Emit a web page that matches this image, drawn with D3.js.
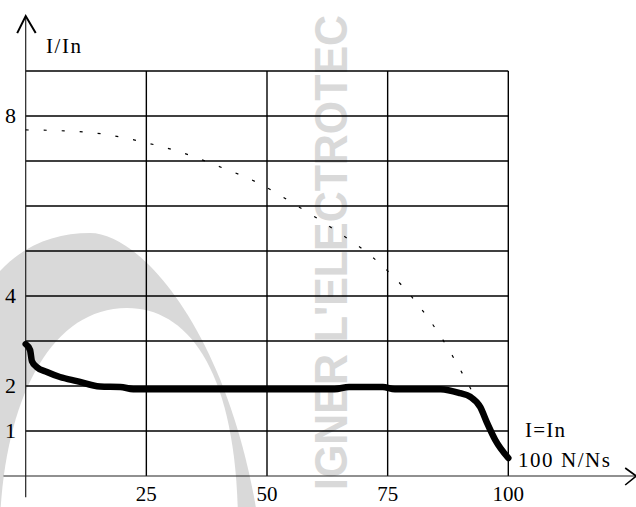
<!DOCTYPE html>
<html lang="fr">
  <head>
    <meta charset="utf-8" />
    <title>I/In - N/Ns</title>
    <script src="https://cdn.jsdelivr.net/npm/d3@7"></script>
    <style>
      body { margin: 0; background: #fff; }
      svg { display: block; }
    </style>
  </head>
  <body>
    <svg id="chart" width="636" height="507"></svg>
    <script>
      // values (speed in % of Ns, current in I/In)
      const solidSpeed = [0, 0.9, 1.3, 2.3, 4.4, 7.1, 10.6, 15.4, 19.6, 22.3, 40, 64, 67, 74, 76.5, 86, 90, 92.1, 94.2, 95.6, 97.3, 100];
      const solidCurrent = [2.93, 2.8, 2.55, 2.42, 2.31, 2.2, 2.11, 1.99, 1.98, 1.93, 1.93, 1.93, 1.98, 1.98, 1.93, 1.93, 1.84, 1.76, 1.53, 1.18, 0.8, 0.4];

      const dottedSpeed = [0, 8, 16, 24, 32, 40, 48, 56, 64, 72, 80, 86, 92.7];
      const dottedCurrent = [7.69, 7.67, 7.6, 7.43, 7.2, 6.88, 6.52, 6.02, 5.47, 4.85, 3.98, 3.1, 1.84];

      const xTicks = [25, 50, 75, 100];
      const yTicks = [1, 2, 4, 8];
      const yGrid = [1, 2, 3, 4, 5, 6, 7, 8, 9];
      const xGrid = [25, 50, 75, 100];

      const svg = d3.select("#chart")
        .attr("font-family", "'Liberation Serif', 'DejaVu Serif', serif");

      const xScale = d3.scaleLinear().domain([0, 100]).range([25.7, 508.3]);
      const yScale = d3.scaleLinear().domain([0, 9]).range([476, 71]);

      // watermark (light grey arch + vertical text)
      const wm = svg.append("g").attr("class", "watermark");
      wm.append("path")
        .attr("d", "M -60 520 L -60 430 C -40 280, 20 233, 90 233 C 140 233, 228 330, 258 520 Z")
        .attr("fill", "#d9d9d9");
      wm.append("path")
        .attr("d", "M 0 520 C 5 400, 50 308, 127 308 C 188 308, 236 370, 238 520 Z")
        .attr("fill", "#fff");
      wm.append("text")
        .attr("transform", "translate(347, 490) rotate(-90)")
        .attr("font-family", "'Liberation Sans', Arial, sans-serif")
        .attr("font-weight", "700")
        .attr("font-size", "46px")
        .attr("fill", "#d9d9d9")
        .attr("textLength", 475)
        .attr("lengthAdjust", "spacingAndGlyphs")
        .text("IGNER L'ELECTROTEC");

      // grid
      const grid = svg.append("g").attr("class", "grid");
      grid.selectAll(".h-line")
        .data(yGrid)
        .enter()
        .append("line")
        .attr("class", "h-line")
        .attr("x1", xScale(0))
        .attr("x2", xScale(100))
        .attr("y1", (d) => yScale(d))
        .attr("y2", (d) => yScale(d))
        .attr("stroke", "#000")
        .attr("stroke-width", 1.4);
      grid.selectAll(".v-line")
        .data(xGrid)
        .enter()
        .append("line")
        .attr("class", "v-line")
        .attr("x1", (d) => xScale(d))
        .attr("x2", (d) => xScale(d))
        .attr("y1", yScale(0))
        .attr("y2", yScale(9))
        .attr("stroke", "#000")
        .attr("stroke-width", 1.4);

      // axes with arrows
      const axes = svg.append("g").attr("class", "axes");
      axes.append("line")
        .attr("x1", xScale(-4.6)).attr("x2", xScale(126.5))
        .attr("y1", yScale(0)).attr("y2", yScale(0))
        .attr("stroke", "#222").attr("stroke-width", 1.2);
      axes.append("line")
        .attr("x1", xScale(0)).attr("x2", xScale(0))
        .attr("y1", yScale(-0.47)).attr("y2", yScale(10.22))
        .attr("stroke", "#222").attr("stroke-width", 1.2);
      axes.append("path")
        .attr("d", `M${xScale(0) - 8.5},${yScale(10.22) + 17} L${xScale(0)},${yScale(10.22)} L${xScale(0) + 10},${yScale(10.22) + 17}`)
        .attr("fill", "none").attr("stroke", "#000").attr("stroke-width", 2);
      axes.append("path")
        .attr("d", `M${xScale(126.5) - 11},${yScale(0) - 8} L${xScale(126.5)},${yScale(0)} L${xScale(126.5) - 11},${yScale(0) + 9}`)
        .attr("fill", "none").attr("stroke", "#000").attr("stroke-width", 1.6);

      // tick labels
      svg.selectAll(".x-label")
        .data(xTicks)
        .enter()
        .append("text")
        .attr("class", "x-label")
        .attr("x", (d) => xScale(d))
        .attr("y", 501)
        .attr("text-anchor", "middle")
        .attr("font-size", "21px")
        .text((d) => d);
      svg.selectAll(".y-label")
        .data(yTicks)
        .enter()
        .append("text")
        .attr("class", "y-label")
        .attr("x", 16)
        .attr("y", (d) => yScale(d) + 7)
        .attr("text-anchor", "end")
        .attr("font-size", "22px")
        .text((d) => d);

      svg.append("text")
        .attr("x", 46).attr("y", 53)
        .attr("font-size", "21px")
        .attr("textLength", 35)
        .text("I/In");
      svg.append("text")
        .attr("x", 525).attr("y", 437)
        .attr("font-size", "21px")
        .attr("textLength", 40)
        .text("I=In");
      svg.append("text")
        .attr("x", 518).attr("y", 467)
        .attr("font-size", "21px")
        .attr("textLength", 92)
        .text("100 N/Ns");

      // curves
      const line = d3.line()
        .x((d) => xScale(d[0]))
        .y((d) => yScale(d[1]))
        .curve(d3.curveMonotoneX);

      svg.append("path")
        .attr("class", "dotted")
        .attr("d", line(d3.zip(dottedSpeed, dottedCurrent)))
        .attr("fill", "none")
        .attr("stroke", "#000")
        .attr("stroke-width", 1.2)
        .attr("stroke-dasharray", "3,15");

      svg.append("path")
        .attr("class", "solid")
        .attr("d", line(d3.zip(solidSpeed, solidCurrent)))
        .attr("fill", "none")
        .attr("stroke", "#000")
        .attr("stroke-width", 6.5)
        .attr("stroke-linecap", "round")
        .attr("stroke-linejoin", "round");
    </script>
  </body>
</html>
